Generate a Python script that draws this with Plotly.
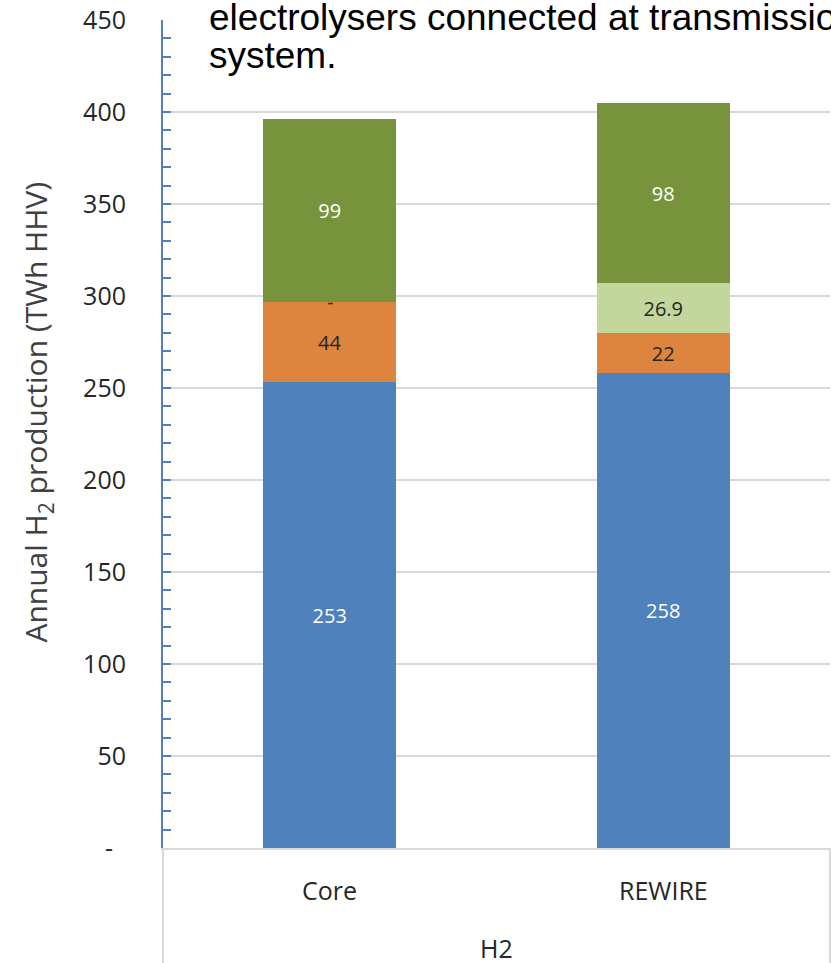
import plotly.graph_objects as go

# Scenarios on the category axis, grouped under one carrier
scenarios = ["Core", "REWIRE"]
group_label = "H2"

# Annual hydrogen production by segment (TWh HHV), stacked bottom to top
seg_blue = [253, 258]
seg_orange = [44, 22]
seg_lightgreen = [0, 26.9]
seg_green = [99, 98]

y_ticks = [0, 50, 100, 150, 200, 250, 300, 350, 400, 450]
y_tick_text = ["-\u00a0\u00a0"] + [str(v) for v in y_ticks[1:]]

note_lines = ["electrolysers connected at transmission", "system."]


def fmt(v):
    if v == 0:
        return ""
    return f"{v:.0f}" if float(v).is_integer() else f"{v:.1f}"


series = [
    ("Segment 1", seg_blue, "#4F81BD", "white"),
    ("Segment 2", seg_orange, "#DD843F", "#262626"),
    ("Segment 3", seg_lightgreen, "#C3D69B", "#262626"),
    ("Segment 4", seg_green, "#77933C", "white"),
]

fig = go.Figure()
for name, vals, color, tcolor in series:
    fig.add_trace(go.Bar(
        x=scenarios, y=vals, name=name,
        marker=dict(color=color, line=dict(width=0)),
        width=0.4,
        text=[fmt(v) for v in vals],
        textposition="inside",
        insidetextanchor="middle",
        textangle=0,
        constraintext="none",
        textfont=dict(family="Open Sans", size=20, color=tcolor),
        showlegend=False,
        hoverinfo="skip",
    ))

annotations = []
# zero-valued segments get an Excel-style dash label at their stack level
for i, s in enumerate(scenarios):
    if seg_lightgreen[i] == 0:
        annotations.append(dict(
            x=s, xref="x", y=seg_blue[i] + seg_orange[i] + seg_lightgreen[i], yref="y",
            text="-", showarrow=False, yanchor="middle",
            font=dict(family="Open Sans", size=20, color="#262626"),
        ))

# category labels below the plot
for s in scenarios:
    annotations.append(dict(
        x=s, xref="x", y=-0.0507, yref="paper", text=s, showarrow=False,
        yanchor="middle", font=dict(family="Open Sans", size=25, color="#262626"),
    ))
annotations.append(dict(
    x=0.5, xref="paper", y=-0.1208, yref="paper", text=group_label, showarrow=False,
    yanchor="middle", font=dict(family="Open Sans", size=25, color="#262626"),
))

# y-axis title
annotations.append(dict(
    x=-0.189, xref="paper", y=0.527, yref="paper", textangle=-90,
    text="Annual H<sub>2</sub> production (TWh HHV)", showarrow=False,
    xanchor="center", yanchor="middle",
    font=dict(family="Open Sans", size=30, color="#404040"),
))

# overlaid note text, one annotation per line for tight line spacing
plot_top_px, plot_h_px = 20, 828
for line, center_px in zip(note_lines, [18, 56]):
    annotations.append(dict(
        x=0.066, xref="paper",
        y=1 + (plot_top_px - center_px) / plot_h_px, yref="paper",
        text=line, showarrow=False,
        xanchor="left", yanchor="middle", align="left",
        font=dict(family="Liberation Sans", size=37, color="black"),
    ))

shapes = [
    # white text box behind the note
    dict(type="rect", xref="paper", yref="paper", x0=0.036, x1=1.01, y0=0.93, y1=1.04,
         fillcolor="white", line=dict(width=0), layer="above"),
    # category area borders
    dict(type="line", xref="paper", yref="paper", x0=0, x1=0, y0=0, y1=-0.14,
         line=dict(color="#D9D9D9", width=2)),
    dict(type="line", xref="paper", yref="paper", x0=1, x1=1, y0=0, y1=-0.14,
         line=dict(color="#D9D9D9", width=2)),
]

fig.update_layout(
    barmode="stack",
    width=831, height=963,
    margin=dict(l=163, r=1, t=20, b=115),
    paper_bgcolor="white", plot_bgcolor="white",
    annotations=annotations,
    shapes=shapes,
    xaxis=dict(
        type="category", range=[-0.5, 1.5], showticklabels=False, ticks="",
        showgrid=False, showline=True, linecolor="#D9D9D9", linewidth=2,
        fixedrange=True,
    ),
    yaxis=dict(
        range=[0, 450], tickvals=y_ticks, ticktext=y_tick_text,
        showgrid=True, gridcolor="#D9D9D9", gridwidth=2,
        showline=True, linecolor="#4F81BD", linewidth=2,
        ticks="inside", ticklen=8, tickwidth=2, tickcolor="#4F81BD",
        minor=dict(dtick=10, ticks="inside", ticklen=8, tickwidth=2,
                   tickcolor="#4F81BD", showgrid=False),
        tickfont=dict(family="Open Sans", size=25, color="#262626"),
        ticklabelstandoff=30,
        zeroline=False,
    ),
)

fig.write_html("out.html")
